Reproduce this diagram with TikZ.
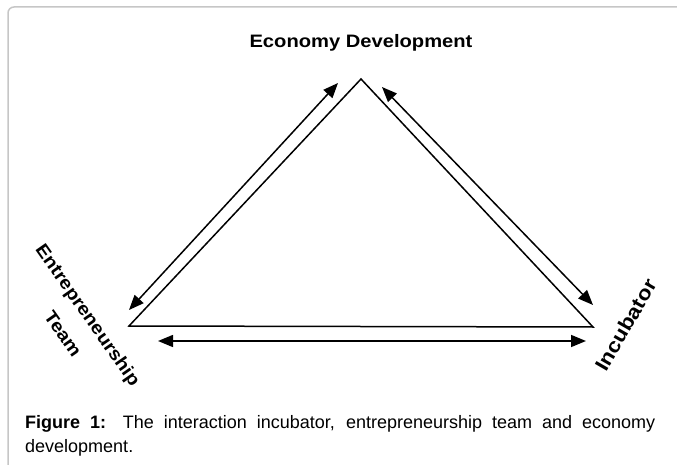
\documentclass[tikz,border=0pt]{standalone}
\usepackage{fontspec}
\setmainfont{Liberation Sans}
\newfontfamily\widesans{Liberation Sans}[FakeStretch=1.12]
\usetikzlibrary{arrows.meta}
\begin{document}
\begin{tikzpicture}[x=1pt,y=-1pt,
  edge/.style={line width=1.5pt,black},
  dbl/.style={line width=1.5pt,{Triangle[length=15pt,width=12pt]}-{Triangle[length=15pt,width=12pt]}},
  lbl/.style={font=\widesans\bfseries\fontsize{18}{21}\selectfont,inner sep=0pt}]
\useasboundingbox (0,0) rectangle (677,465);
\draw[gray!45,line width=1.5pt,rounded corners=6pt] (8,475) -- (8,7) -- (690,7);
% triangle vertices
\coordinate (A) at (361,79);
\coordinate (L) at (129,326);
\coordinate (R) at (593,327);
\draw[edge,line join=miter] (A) -- (L) -- (R) -- cycle;
% arrow ends
\coordinate (l1) at (129,310);
\coordinate (l2) at (338,83);
\coordinate (r1) at (382,87);
\coordinate (r2) at (593,305);
\coordinate (b1) at (158,341);
\coordinate (b2) at (586,341);
\draw[dbl] (l1) -- (l2);
\draw[dbl] (r1) -- (r2);
\draw[dbl] (b1) -- (b2);
% labels
\node[lbl] (eco) at (361,43) {Economy Development};
\node[lbl,rotate=-55] (ent) at (87,316) {Entrepreneurship};
\node[lbl,rotate=-55] (team) at (63,334) {Team};
\node[lbl,rotate=60,font=\widesans\bfseries\fontsize{20}{24}\selectfont] (inc) at (626,325) {Incubator};
\node[anchor=north west,inner sep=0pt,text width=630pt,align=justify,font=\fontsize{18}{24}\selectfont] (cap) at (25,415)
  {\textbf{Figure 1:} The interaction incubator, entrepreneurship team and economy\linebreak development.};
\end{tikzpicture}
\end{document}
